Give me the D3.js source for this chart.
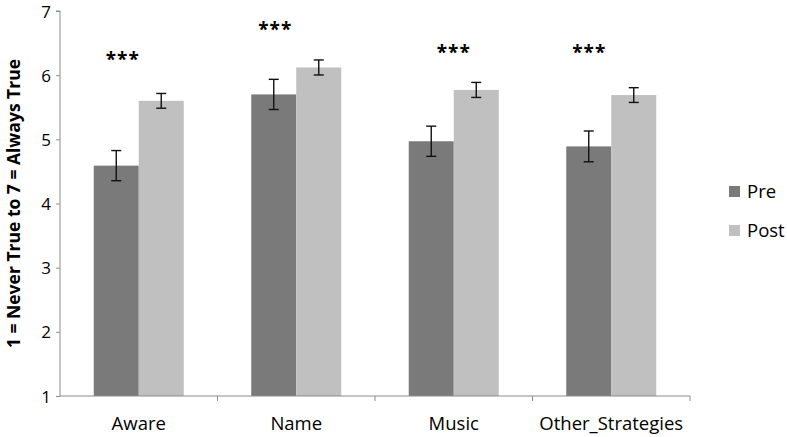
<!DOCTYPE html>
<html>
<head>
<meta charset="utf-8">
<script src="https://cdn.jsdelivr.net/npm/d3@7"></script>
<style>
  body { margin: 0; background: #fff; }
  svg text { font-family: "Open Sans", sans-serif; fill: #000; }
</style>
</head>
<body>
<div id="chart"></div>
<script>
(function () {
    // Data
    const categories = ["Aware", "Name", "Music", "Other_Strategies"];
    const seriesNames = ["Pre", "Post"];
    const preValues = [4.59, 5.70, 4.97, 4.89];
    const postValues = [5.60, 6.12, 5.77, 5.69];
    const preErrors = [0.235, 0.235, 0.235, 0.24];
    const postErrors = [0.115, 0.117, 0.117, 0.115];
    const yTicks = [1, 2, 3, 4, 5, 6, 7];
    const starLabels = ["***", "***", "***", "***"];
    const starY = [6.30, 6.77, 6.42, 6.42];   // in chart units
    const starDx = [-16, -21, 0, -22];        // shift from group centre, px

    // Colors
    const colorPre = "#7a7a7a";
    const colorPost = "#c0c0c0";
    const colorAxis = "#8c8c8c";

    const width = 787, height = 437;
    const margin = { top: 11, right: 97, bottom: 41, left: 60 };

    const svg = d3.select("#chart").append("svg")
        .attr("width", width)
        .attr("height", height);

    const x0 = d3.scaleBand()
        .domain(categories)
        .range([margin.left, width - margin.right])
        .padding(0);

    const x1 = d3.scaleBand()
        .domain(seriesNames)
        .range([0, x0.bandwidth()])
        .paddingInner(0)
        .paddingOuter(0.75);

    const y = d3.scaleLinear()
        .domain([1, 7])
        .range([height - margin.bottom, margin.top]);

    const color = d3.scaleOrdinal().domain(seriesNames).range([colorPre, colorPost]);

    const rows = categories.map((c, i) => ({
        cat: c,
        values: [
            { key: "Pre", value: preValues[i], err: preErrors[i] },
            { key: "Post", value: postValues[i], err: postErrors[i] }
        ]
    }));

    // Bars
    const groups = svg.append("g").selectAll("g")
        .data(rows)
        .enter().append("g")
        .attr("transform", d => "translate(" + x0(d.cat) + ",0)");

    groups.selectAll("rect")
        .data(d => d.values)
        .enter().append("rect")
        .attr("x", d => x1(d.key))
        .attr("y", d => y(d.value))
        .attr("width", x1.bandwidth())
        .attr("height", d => y(1) - y(d.value))
        .attr("fill", d => color(d.key));

    // Error bars
    const capW = 5;
    const eb = groups.selectAll(".err")
        .data(d => d.values)
        .enter().append("g")
        .attr("class", "err")
        .attr("stroke", "#111")
        .attr("stroke-width", 1.4);
    eb.append("line")
        .attr("x1", d => x1(d.key) + x1.bandwidth() / 2)
        .attr("x2", d => x1(d.key) + x1.bandwidth() / 2)
        .attr("y1", d => y(d.value + d.err))
        .attr("y2", d => y(d.value - d.err));
    eb.append("line")
        .attr("x1", d => x1(d.key) + x1.bandwidth() / 2 - capW)
        .attr("x2", d => x1(d.key) + x1.bandwidth() / 2 + capW)
        .attr("y1", d => y(d.value + d.err))
        .attr("y2", d => y(d.value + d.err));
    eb.append("line")
        .attr("x1", d => x1(d.key) + x1.bandwidth() / 2 - capW)
        .attr("x2", d => x1(d.key) + x1.bandwidth() / 2 + capW)
        .attr("y1", d => y(d.value - d.err))
        .attr("y2", d => y(d.value - d.err));

    // Significance stars
    svg.append("g").selectAll("text")
        .data(categories)
        .enter().append("text")
        .attr("x", (d, i) => x0(d) + x0.bandwidth() / 2 + starDx[i])
        .attr("y", (d, i) => y(starY[i]))
        .attr("dy", "0.55em")
        .attr("text-anchor", "middle")
        .style("font-size", "19px")
        .style("font-weight", "bold")
        .style("letter-spacing", "1px")
        .text((d, i) => starLabels[i]);

    // Y axis
    const yAxis = svg.append("g")
        .attr("transform", "translate(" + margin.left + ",0)")
        .call(d3.axisLeft(y).tickValues(yTicks).tickSize(4).tickPadding(5).tickFormat(d3.format("d")));
    yAxis.select(".domain").attr("stroke", colorAxis).attr("d", "M-4," + y(7) + "H0V" + y(1));
    yAxis.selectAll(".tick line").attr("stroke", colorAxis);
    yAxis.selectAll(".tick text").style("font-size", "17px").attr("dy", "0.36em");

    // X axis
    const xAxis = svg.append("g")
        .attr("transform", "translate(0," + y(1) + ")");
    xAxis.append("line")
        .attr("x1", margin.left).attr("x2", width - margin.right)
        .attr("stroke", colorAxis);
    const bounds = categories.map(c => x0(c) + x0.bandwidth());
    xAxis.selectAll(".xt")
        .data(bounds)
        .enter().append("line")
        .attr("class", "xt")
        .attr("x1", d => d).attr("x2", d => d)
        .attr("y1", 0).attr("y2", 5)
        .attr("stroke", colorAxis);
    xAxis.selectAll(".xl")
        .data(categories)
        .enter().append("text")
        .attr("class", "xl")
        .attr("x", d => x0(d) + x0.bandwidth() / 2)
        .attr("y", 34)
        .attr("text-anchor", "middle")
        .style("font-size", "18.5px")
        .text(d => d);

    // Y axis title
    svg.append("text")
        .attr("transform", "translate(14," + (y(4)) + ") rotate(-90)")
        .attr("text-anchor", "middle")
        .attr("dy", "0.35em")
        .style("font-size", "17.5px")
        .style("font-weight", "bold")
        .text("1 = Never True to 7 = Always True");

    // Legend
    const legend = svg.append("g").selectAll("g")
        .data(seriesNames)
        .enter().append("g")
        .attr("transform", (d, i) => "translate(729," + (186 + i * 39) + ")");
    legend.append("rect")
        .attr("width", 11).attr("height", 11)
        .attr("fill", d => color(d));
    legend.append("text")
        .attr("x", 18).attr("y", 6)
        .attr("dy", "0.35em")
        .style("font-size", "18.5px")
        .text(d => d);
})();
</script>
</body>
</html>
